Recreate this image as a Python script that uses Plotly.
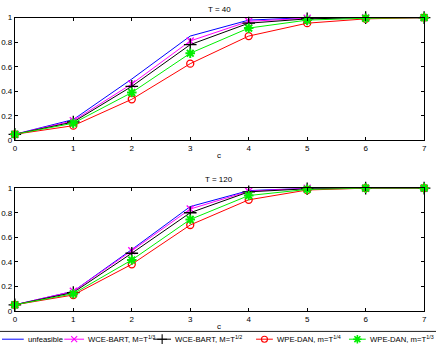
import plotly.graph_objects as go

# ---------------- data ----------------
C = [0, 1, 2, 3, 4, 5, 6, 7]

T40_unfeasible = [0.05, 0.17, 0.50, 0.85, 0.98, 1.00, 1.00, 1.00]
T40_wce13 = [0.05, 0.16, 0.46, 0.81, 0.97, 0.995, 1.00, 1.00]
T40_wce12 = [0.05, 0.15, 0.44, 0.78, 0.955, 0.99, 1.00, 1.00]
T40_wpe14 = [0.05, 0.12, 0.335, 0.625, 0.85, 0.955, 0.99, 1.00]
T40_wpe13 = [0.05, 0.14, 0.39, 0.71, 0.915, 0.98, 0.995, 1.00]

T120_unfeasible = [0.05, 0.16, 0.50, 0.85, 0.98, 1.00, 1.00, 1.00]
T120_wce13 = [0.05, 0.16, 0.49, 0.83, 0.975, 1.00, 1.00, 1.00]
T120_wce12 = [0.05, 0.15, 0.47, 0.80, 0.97, 0.995, 1.00, 1.00]
T120_wpe14 = [0.05, 0.13, 0.38, 0.70, 0.905, 0.985, 1.00, 1.00]
T120_wpe13 = [0.05, 0.14, 0.415, 0.745, 0.94, 0.99, 1.00, 1.00]

NAMES = ["unfeasible", "WCE-BART, M=T<sup>1/3</sup>", "WCE-BART, M=T<sup>1/2</sup>",
         "WPE-DAN, m=T<sup>1/4</sup>", "WPE-DAN, m=T<sup>1/3</sup>"]
TITLES = ["T = 40", "T = 120"]
X_TITLE = "c"

# ---------------- styles ----------------
COLORS = ["#0000ff", "#ff00ff", "#000000", "#ff0000", "#00ee00"]
SYMBOLS = [None, "x-thin-open", "cross-thin-open", "circle-open", "asterisk-open"]
MSIZE = [0, 7, 9, 7, 8]
LEG_MSIZE = [0, 6, 7, 6, 7]
FONT = "Liberation Sans, Arial, sans-serif"

W, H = 436, 352
PX_L, PX_R = 13, 427
TOP_Y = (14, 140)
BOT_Y = (189, 315)


def pdom(a, b):
    return [1 - b / H, 1 - a / H]


fig = go.Figure()

panels = [
    ("x", "y", [T40_unfeasible, T40_wce13, T40_wce12, T40_wpe14, T40_wpe13]),
    ("x2", "y2", [T120_unfeasible, T120_wce13, T120_wce12, T120_wpe14, T120_wpe13]),
]
for xa, ya, series in panels:
    for i, ys in enumerate(series):
        mode = "lines" if SYMBOLS[i] is None else "lines+markers"
        marker = dict(symbol=SYMBOLS[i], size=MSIZE[i], color=COLORS[i],
                      line=dict(color=COLORS[i], width=1.3 if i < 4 else 2)) if SYMBOLS[i] else None
        fig.add_trace(go.Scatter(x=C, y=ys, mode=mode, xaxis=xa, yaxis=ya,
                                 line=dict(color=COLORS[i], width=1),
                                 marker=marker, showlegend=False, cliponaxis=False,
                                 hoverinfo="skip"))

# ---------------- manual legend (pixel overlay axis) ----------------
LEG_START = [0, 63, 153, 257, 351]
LEG_LEN = [22, 20, 18, 17, 17]
LEG_Y = 344
for i in range(5):
    x0 = LEG_START[i]
    x1 = x0 + LEG_LEN[i]
    fig.add_trace(go.Scatter(x=[x0, x1], y=[LEG_Y, LEG_Y], mode="lines", xaxis="x3", yaxis="y3",
                             line=dict(color=COLORS[i], width=1), showlegend=False,
                             hoverinfo="skip", cliponaxis=False))
    if SYMBOLS[i]:
        fig.add_trace(go.Scatter(x=[(x0 + x1) / 2], y=[LEG_Y], mode="markers", xaxis="x3", yaxis="y3",
                                 marker=dict(symbol=SYMBOLS[i], size=LEG_MSIZE[i], color=COLORS[i],
                                             line=dict(color=COLORS[i], width=1.1 if i < 4 else 1.6)),
                                 showlegend=False, hoverinfo="skip", cliponaxis=False))
    fig.add_annotation(x=x1 + 2, y=LEG_Y, xref="x3", yref="y3", text=NAMES[i],
                       showarrow=False, xanchor="left", yanchor="middle",
                       font=dict(family=FONT, size=7.7, color="#000"))

fig.add_shape(type="rect", xref="paper", yref="paper", x0=-0.01, x1=1.02,
              y0=-0.05, y1=1 - 336 / H, line=dict(color="#222", width=1),
              fillcolor="rgba(0,0,0,0)", layer="below")

# ---------------- titles ----------------
cx = (PX_L + PX_R) / 2 / W
for txt, py in [(TITLES[0], 6), (TITLES[1], 180)]:
    fig.add_annotation(x=cx, y=1 - py / H, xref="paper", yref="paper", text=txt,
                       showarrow=False, xanchor="center", yanchor="middle",
                       font=dict(family=FONT, size=8, color="#000"))
for py in [155, 331]:
    fig.add_annotation(x=cx, y=1 - py / H, xref="paper", yref="paper", text=X_TITLE,
                       showarrow=False, xanchor="center", yanchor="middle",
                       font=dict(family=FONT, size=8, color="#000"))

axis_common = dict(showline=True, linecolor="#000", linewidth=1, mirror="ticks",
                   ticks="inside", ticklen=3, tickcolor="#000", showgrid=False,
                   zeroline=False, tickfont=dict(family=FONT, size=8, color="#000"),
                   fixedrange=True)
xdom = [PX_L / W, PX_R / W]
fig.update_layout(
    width=W, height=H, margin=dict(l=0, r=0, t=0, b=0),
    paper_bgcolor="white", plot_bgcolor="rgba(0,0,0,0)", showlegend=False,
    xaxis=dict(domain=xdom, range=[0, 7], dtick=1, anchor="y", **axis_common),
    yaxis=dict(domain=pdom(*TOP_Y), range=[0, 1], dtick=0.2, anchor="x", **axis_common),
    xaxis2=dict(domain=xdom, range=[0, 7], dtick=1, anchor="y2", **axis_common),
    yaxis2=dict(domain=pdom(*BOT_Y), range=[0, 1], dtick=0.2, anchor="x2", **axis_common),
    xaxis3=dict(domain=[0, 1], range=[0, W], visible=False, anchor="y3", fixedrange=True),
    yaxis3=dict(domain=[0, 1], range=[H, 0], visible=False, anchor="x3", fixedrange=True),
)

fig.write_html("out.html")
